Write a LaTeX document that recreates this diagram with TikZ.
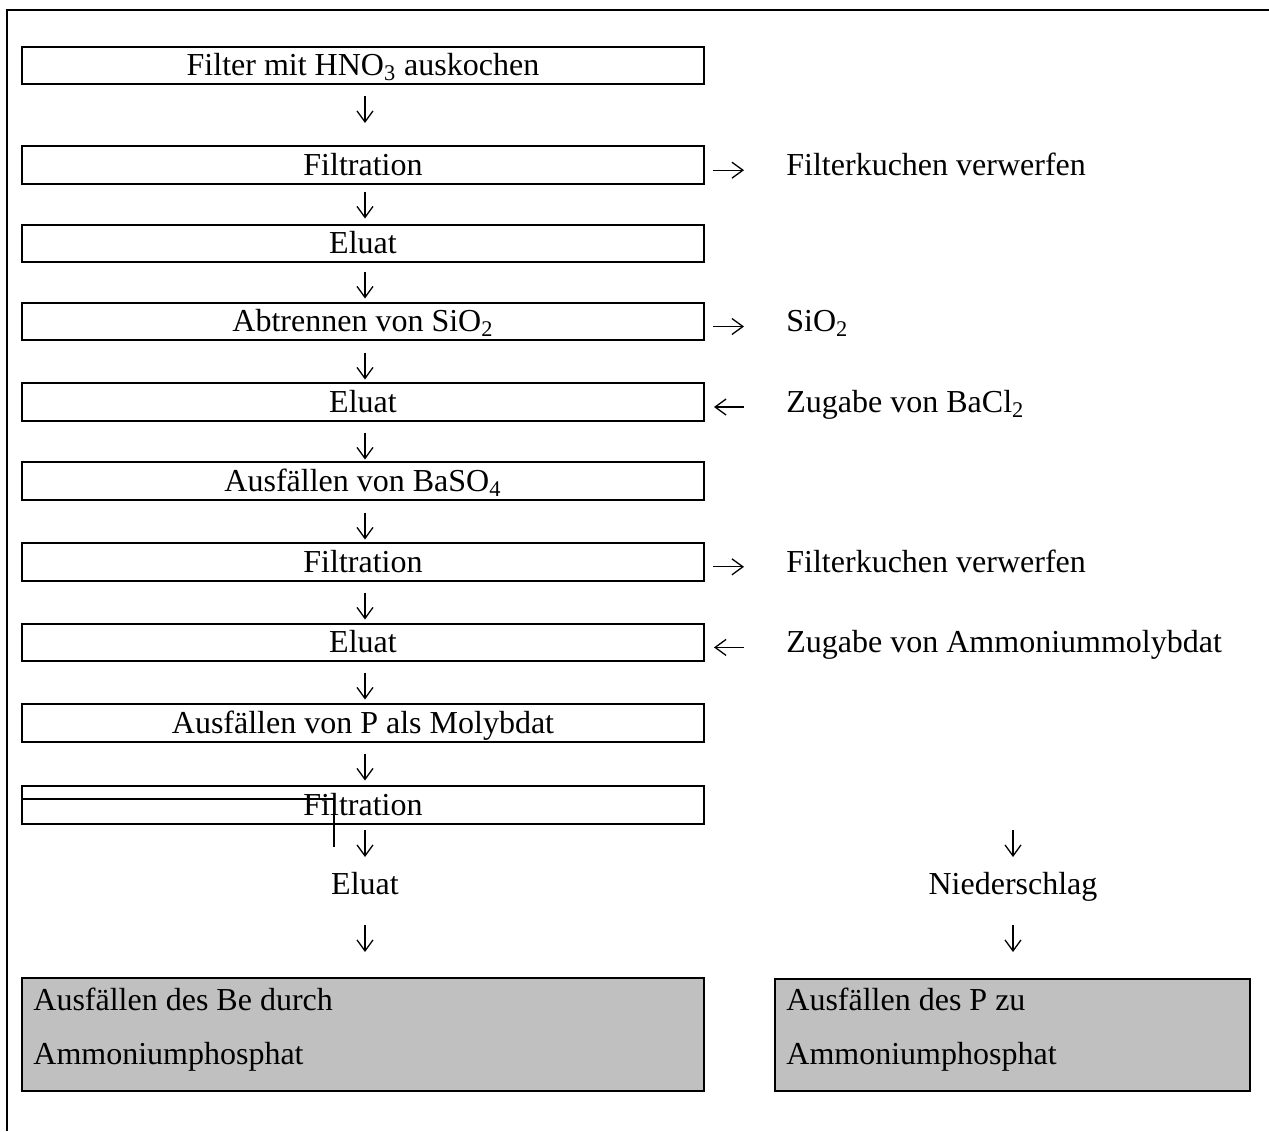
\documentclass[tikz,border=0pt]{standalone}
\usepackage{fontspec}
\setmainfont{Liberation Serif}
\usetikzlibrary{arrows.meta}
\definecolor{silver}{HTML}{C0C0C0}
\begin{document}
\begin{tikzpicture}[x=0.5pt,y=-0.5pt,
  font=\fontsize{16pt}{19pt}\selectfont,
  procbox/.style={draw, line width=1pt, minimum width=341pt, minimum height=18.75pt,
    inner sep=0pt, text height=12pt, text depth=1.75pt},
  sidetext/.style={anchor=west, inner sep=0pt, text height=12pt, text depth=1.75pt},
  flow/.style={line width=0.65pt, -{Straight Barb[length=5.5pt,width=8pt,line width=0.65pt]}},
  resultbox/.style={draw, line width=1pt, fill=silver, inner sep=0pt},
  resulttext/.style={anchor=base west, inner sep=0pt}]
\useasboundingbox (0,0) rectangle (1269,1131);

% outer frame (top and left edges only)
\coordinate (fr) at (1269,10);
\coordinate (fc) at (7,10);
\coordinate (fb) at (7,1131);
\draw[line width=1pt] (fr) -- (fc) -- (fb);

% main column of process steps
\node[procbox] (b1)  at (363,65.5)  {Filter mit HNO\textsubscript{3} auskochen};
\node[procbox] (b2)  at (363,165.2) {Filtration};
\node[procbox] (b3)  at (363,243.3) {Eluat};
\node[procbox] (b4)  at (363,321.5) {Abtrennen von SiO\textsubscript{2}};
\node[procbox] (b5)  at (363,402)   {Eluat};
\node[procbox] (b6)  at (363,481.2) {Ausfällen von BaSO\textsubscript{4}};
\node[procbox] (b7)  at (363,561.8) {Filtration};
\node[procbox] (b8)  at (363,642.4) {Eluat};
\node[procbox] (b9)  at (363,723)   {Ausfällen von P als Molybdat};
\node[procbox] (b10) at (363,805)   {Filtration};

% downward arrows between the steps
\foreach \n/\c in {1/109.5, 2/205, 3/285, 4/366, 5/446, 6/526, 7/606, 8/686, 9/767, 10/843.5, 11/938.5}{
  \coordinate (d\n s) at (365,\c-13.5);
  \coordinate (d\n e) at (365,\c+13.5);
  \draw[flow] (d\n s) -- (d\n e);
}

% side streams
\node[sidetext] (t2) at (786,165.2) {Filterkuchen verwerfen};
\node[sidetext] (t4) at (786,321.5) {SiO\textsubscript{2}};
\node[sidetext] (t5) at (786,402)   {Zugabe von BaCl\textsubscript{2}};
\node[sidetext] (t7) at (786,561.8) {Filterkuchen verwerfen};
\node[sidetext] (t8) at (786,642.4) {Zugabe von Ammoniummolybdat};
\foreach \n/\c in {2/165.2, 4/321.5, 7/561.8}{
  \coordinate (s\n a) at (713,\c+5);
  \coordinate (s\n b) at (744,\c+5);
  \draw[flow] (s\n a) -- (s\n b);
}
\foreach \n/\c in {5/402, 8/642.4}{
  \coordinate (s\n a) at (744,\c+5);
  \coordinate (s\n b) at (714,\c+5);
  \draw[flow] (s\n a) -- (s\n b);
}

% stray frame line over the last filtration
\coordinate (k1) at (22,799);
\coordinate (k2) at (334,847);
\draw[line width=0.8pt] (k1) -| (k2);

% split after the last filtration
\node[anchor=base, inner sep=0pt] (el) at (365,894)  {Eluat};
\node[anchor=base, inner sep=0pt] (ns) at (1013,894) {Niederschlag};
\foreach \n/\c in {1/843.5, 2/938.5}{
  \coordinate (r\n s) at (1013,\c-13.5);
  \coordinate (r\n e) at (1013,\c+13.5);
  \draw[flow] (r\n s) -- (r\n e);
}

% final precipitation steps
\node[resultbox, minimum width=341pt, minimum height=56.5pt] (g1) at (363,1034.5) {};
\node[resulttext] (g1a) at (33,1010)  {Ausfällen des Be durch};
\node[resulttext] (g1b) at (33,1064)  {Ammoniumphosphat};
\node[resultbox, minimum width=237.5pt, minimum height=56pt] (g2) at (1012.5,1035) {};
\node[resulttext] (g2a) at (786,1010) {Ausfällen des P zu};
\node[resulttext] (g2b) at (786,1064) {Ammoniumphosphat};
\end{tikzpicture}
\end{document}
